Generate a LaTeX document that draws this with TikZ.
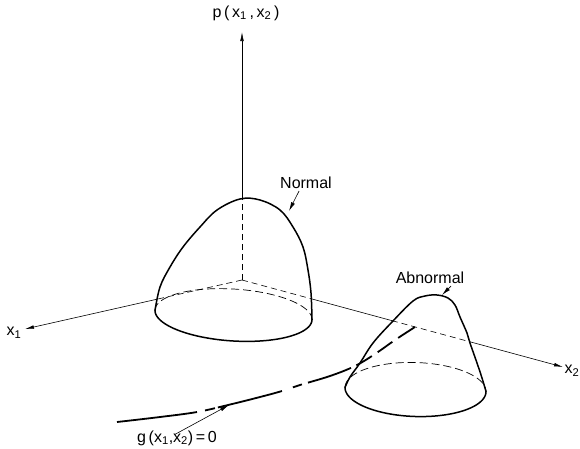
\documentclass[tikz,border=0pt]{standalone}
\usepackage{fontspec}
\setmainfont{Liberation Sans}
\usetikzlibrary{arrows.meta,calc}
\begin{document}
\begin{tikzpicture}[x=1pt,y=-1pt,
  axis/.style={line width=0.6pt},
  axisdash/.style={line width=0.6pt,dash pattern=on 6pt off 4pt},
  hump/.style={line width=1.5pt,line join=round,line cap=round},
  backdash/.style={line width=0.7pt,dash pattern=on 8pt off 4pt},
  axtip/.style={-{Latex[length=9pt,width=3.6pt]}},
  ptr/.style={line width=0.6pt,-{Latex[length=9pt,width=4pt]}},
  lbl/.style={font=\fontsize{16}{18}\selectfont,inner sep=0pt}]
\useasboundingbox (0,0) rectangle (580,448);
% axes
\coordinate (O) at (242,280);
\coordinate (x1tip) at (25,329);
\coordinate (x2tip) at (563,367);
\coordinate (ptip) at (242,32);
\coordinate (npeak) at (242,199);
\coordinate (x1c) at ($(O)!0.392!(x1tip)$);
\coordinate (x2a) at ($(O)!0.215!(x2tip)$);
\coordinate (x2b) at ($(O)!0.467!(x2tip)$);
\coordinate (x2c) at ($(O)!0.710!(x2tip)$);
\draw[axisdash] (O) -- (x1c);
\draw[axis,axtip] (x1c) -- (x1tip);
\draw[axisdash] (O) -- (x2a);
\draw[axis] (x2a) -- (x2b);
\draw[axisdash] (x2b) -- (x2c);
\draw[axis,axtip] (x2c) -- (x2tip);
\draw[axisdash] (O) -- (npeak);
\draw[axis,axtip] (npeak) -- (ptip);
% labels
\node[lbl] (plab) at (246,13) {p\,(\,x\textsubscript{1}\,,\,x\textsubscript{2}\,)};
\node[lbl] (x1lab) at (14,333) {x\textsubscript{1}};
\node[lbl,anchor=east] (x2lab) at (579.5,371) {x\textsubscript{2}};
\node[lbl] (nlab) at (306,183) {Normal};
\node[lbl] (alab) at (430,278) {Abnormal};
\node[lbl] (glab) at (177,438) {g\,(x\textsubscript{1},x\textsubscript{2})\,=\,0};
% normal hump
\draw[hump] plot[smooth,tension=0.6] coordinates {(155,310.5) (160,287) (170,267) (183,247) (200,227) (217,210) (240,199) (260,200) (280,210) (293,227) (303,247) (308,270) (311,293) (312,319.5)};
\draw[hump] plot[domain=0:180,samples=61,smooth] ({233.5+78.5*cos(\x)},{315+26*sin(\x)+4.5*cos(\x)});
\draw[backdash] plot[domain=180:360,samples=61,smooth] ({233.5+78.5*cos(\x)},{315+26*sin(\x)+4.5*cos(\x)});
% abnormal hump
\draw[hump] plot[smooth,tension=0.6] coordinates {(345,387.5) (350,377) (360,363) (373,343) (392,322) (413,301) (425,296) (437,295) (448,298) (455,305) (460,317) (467,333) (470,343) (477,363) (482,378) (486,391.5)};
\draw[hump] plot[domain=0:180,samples=61,smooth] ({415.5+70.5*cos(\x)},{389.5+27*sin(\x)+2*cos(\x)});
\draw[backdash] plot[domain=180:360,samples=61,smooth] ({415.5+70.5*cos(\x)},{389.5+27*sin(\x)+2*cos(\x)});
% g curve
\draw[line width=1.8pt,dash pattern=on 80.6pt off 8.2pt on 10.2pt off 3pt on 66.2pt off 11.5pt on 9.5pt off 6.3pt on 45.5pt off 6pt on 18pt off 7pt on 18pt off 7pt on 25pt off 60pt]
  plot[smooth,tension=0.6] coordinates {(117,422) (160,417) (197,412) (228,405) (260,397) (282,391) (300,385) (330,376) (355,366) (375,354) (395,340) (415,327)};
% pointers
\coordinate (gtip) at (229,405);
\coordinate (ntip) at (289,211);
\coordinate (atip) at (442,295);
\draw[ptr] ($(glab.north)+(-2,4)$) -- (gtip);
\draw[ptr] ($(nlab.south)+(-7,2)$) -- (ntip);
\draw[ptr] ($(alab.south)+(21,2)$) -- (atip);
\end{tikzpicture}
\end{document}
